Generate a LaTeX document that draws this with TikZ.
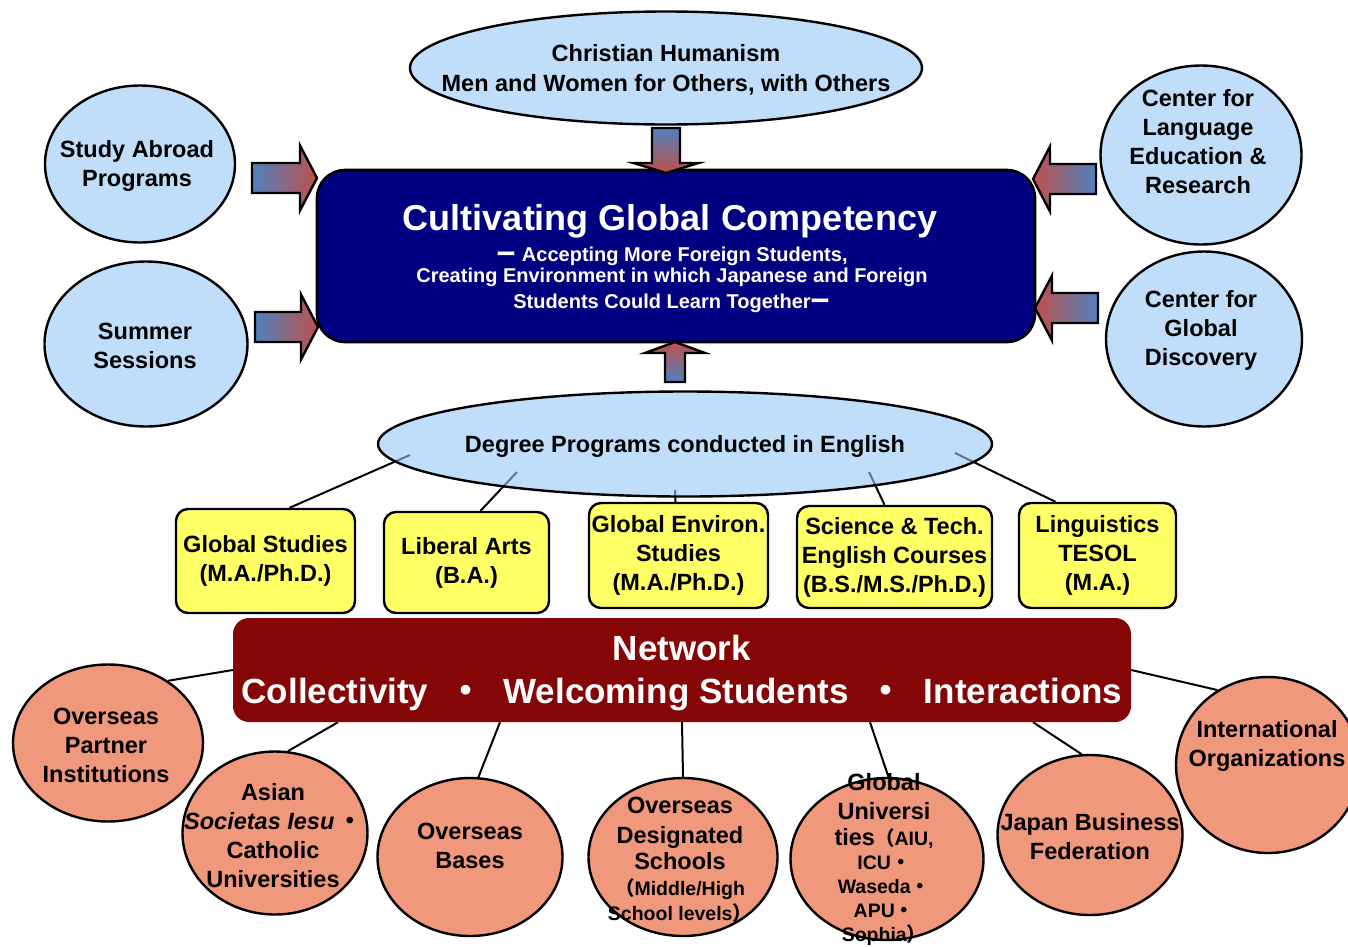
\documentclass[tikz,border=0pt]{standalone}
\usepackage{fontspec}
\setmainfont{Liberation Sans}
\newfontfamily\cjk{Noto Sans CJK JP}
\usetikzlibrary{shapes.geometric,backgrounds,calc}

\definecolor{skyfill}{RGB}{192,222,250}
\definecolor{skyglass}{RGB}{150,200,247}
\definecolor{goalnavy}{RGB}{0,0,128}
\definecolor{netred}{RGB}{133,6,6}
\definecolor{progyellow}{RGB}{255,255,102}
\definecolor{salmon}{RGB}{240,152,124}
\definecolor{arrblue}{RGB}{79,129,189}
\definecolor{arrred}{RGB}{192,80,77}

\newcommand{\bodysize}{\fontsize{23.5}{29}\selectfont\bfseries}
\newcommand{\smallsize}{\fontsize{19.5}{24}\selectfont}
\newcommand{\bigsize}{\fontsize{23.5}{24}\selectfont}

\tikzset{
	sky/.style={ellipse, draw, line width=2.4, fill=skyfill, inner sep=0pt},
	partnerblob/.style={ellipse, draw, line width=2.4, fill=salmon, inner sep=0pt},
	prog/.style={rectangle, rounded corners=12, draw, line width=2.4, fill=progyellow,
			inner sep=0pt, align=center, font=\bodysize},
	goalbox/.style={rectangle, rounded corners=28, draw, line width=2.6, fill=goalnavy},
	goaltext/.style={text=white, align=center, inner sep=0pt},
	netbox/.style={rectangle, rounded corners=16, fill=netred, text=white, align=center,
			inner sep=0pt, font=\fontsize{35}{43}\selectfont\bfseries},
	txt/.style={align=center, inner sep=0pt, font=\bodysize},
	link/.style={line width=2},
	pics/bigarrow/.style n args={6}{code={%
				\draw[line width=2.4, top color=arrred, bottom color=arrblue, shading angle=#2, rotate=#1]
				(0,-#4) -- ({#3-#6},-#4) -- ({#3-#6},-#5) -- (#3,0) -- ({#3-#6},#5) -- ({#3-#6},#4) -- (0,#4) -- cycle;
			}}
}

\begin{document}
\begin{tikzpicture}[x=1pt,y=-1pt]
	\useasboundingbox (0,0) rectangle (1348,946);

	%--- Goal in the centre ---
	\node[goalbox, minimum width=718, minimum height=172] (goal) at (676,256) {};
	\node[goaltext, font=\fontsize{36}{40}\selectfont\bfseries] (goaltitle) at (670,221) {Cultivating Global Competency};
	\node[goaltext, font=\fontsize{20}{21}\selectfont\bfseries] (goalsub) at (672,280)
	{{\cjk ー} Accepting More Foreign Students,\\Creating Environment in which Japanese and Foreign\\[5pt]Students Could Learn Together{\cjk ー}};

	%--- Mission and the four feeders ---
	\node[sky, minimum width=512, minimum height=113] (motto) at (666,68) {};
	\node[txt] (mottotext) at ($(motto)+(0,2)$) {Christian Humanism\\[1pt]Men and Women for Others, with Others};
	\node[sky, minimum width=190, minimum height=157] (abroad) at (140,164) {};
	\node[txt] (abroadtext) at ($(abroad)+(-3,2)$) {Study Abroad\\Programs};
	\node[sky, minimum width=203, minimum height=165] (summer) at (146,344) {};
	\node[txt] (summertext) at ($(summer)+(-1,2)$) {Summer\\Sessions};
	\node[sky, minimum width=201, minimum height=179] (lang) at (1201,155) {};
	\node[txt] (langtext) at ($(lang)+(-3,-13)$) {Center for\\Language\\Education \&\\Research};
	\node[sky, minimum width=196, minimum height=175] (disc) at (1204,339) {};
	\node[txt] (disctext) at ($(disc)+(-3,-9)$) {Center for\\Global\\Discovery};

	%--- Block arrows into the goal ---
	\pic at (252,178) {bigarrow={0}{270}{65}{15}{32.5}{17}};
	\pic at (255,327) {bigarrow={0}{270}{63}{15}{32.5}{17}};
	\pic at (1096,179) {bigarrow={180}{90}{63}{15}{32.5}{17}};
	\pic at (1098,308) {bigarrow={180}{90}{63}{15}{32.5}{17}};
	\pic at (666,128) {bigarrow={270}{180}{45}{14}{32.5}{10}};
	\pic at (675,382) {bigarrow={90}{0}{40}{10}{30}{11}};

	%--- Degree programs ---
	\node[ellipse, draw, line width=2.4, fill=skyglass, fill opacity=0.6, draw opacity=1,
		minimum width=614, minimum height=105, inner sep=0pt] (deg) at (685,444) {};
	\node[txt] (degtext) at ($(deg)+(0,2)$) {Degree Programs conducted in English};
	\node[prog, minimum width=179, minimum height=104] (gs) at (265.5,561) {Global Studies\\(M.A./Ph.D.)};
	\node[prog, minimum width=165, minimum height=101] (la) at (466.5,562.5) {Liberal Arts\\(B.A.)};
	\node[prog, minimum width=179, minimum height=105] (ges) at (678.5,555.5) {Global Environ.\\Studies\\(M.A./Ph.D.)};
	\node[prog, minimum width=195, minimum height=102] (sci) at (894.5,557) {Science \& Tech.\\English Courses\\(B.S./M.S./Ph.D.)};
	\node[prog, minimum width=157, minimum height=105] (ling) at (1097.5,555.5) {Linguistics\\TESOL\\(M.A.)};

	%--- Network ---
	\node[netbox, minimum width=898, minimum height=104] (net) at (682,670) {};
	\node[goaltext, font=\fontsize{35}{43}\selectfont\bfseries] (nettext) at ($(net)+(0,3)$)
	{Network\\Collectivity\hspace{20pt}{\cjk ・}\hspace{20pt}Welcoming Students\hspace{20pt}{\cjk ・}\hspace{20pt}Interactions};
	\node[partnerblob, minimum width=190, minimum height=157] (partner) at (108,743) {};
	\node[txt] (partnertext) at ($(partner)+(-2,2)$) {Overseas\\Partner\\Institutions};
	\node[partnerblob, minimum width=185, minimum height=163] (asj) at (275,833) {};
	\node[txt] (asjtext) at ($(asj)+(-2,3)$) {Asian\\\textit{Societas Iesu}\,{\cjk ・}\\Catholic\\Universities};
	\node[partnerblob, minimum width=185, minimum height=158] (bases) at (470,857) {};
	\node[txt] (basestext) at ($(bases)+(0,-11)$) {Overseas\\Bases};
	\node[partnerblob, minimum width=189, minimum height=158] (schools) at (683,857) {};
	\node[txt] (schoolstext) at ($(schools)+(-3,3)$)
	{Overseas\\[1pt]Designated\\[-3pt]Schools\\[-3pt]{\smallsize{\cjk （}Middle/High}\\[-4pt]{\smallsize School levels{\cjk ）}}};
	\node[partnerblob, minimum width=193, minimum height=162] (glob) at (887,859) {};
	\node[txt, font=\smallsize\bfseries] (globtext) at ($(glob)+(-3,0)$)
	{{\bigsize Global}\\[5pt]{\bigsize Universi}\\[2pt]{\bigsize ties}{\cjk （}AIU,\\ICU{\cjk ・}\\Waseda{\cjk ・}\\APU{\cjk ・}\\Sophia{\cjk ）}};
	\node[partnerblob, minimum width=185, minimum height=160] (keidanren) at (1090,835) {};
	\node[txt] (keidanrentext) at ($(keidanren)+(0,2)$) {Japan Business\\Federation};
	\node[partnerblob, minimum width=184, minimum height=176] (intl) at (1268,765) {};
	\node[txt] (intltext) at ($(intl)+(-1,-19)$) {International\\Organizations};

	%--- Connectors ---
	\begin{scope}[on background layer]
		\draw[link] ($(deg.center)+(-275,11)$) -- ([xshift=24]gs.north);
		\draw[link] ($(deg.center)+(-168,28)$) -- ([xshift=14]la.north);
		\draw[link] ($(deg.center)+(-10,46)$) -- ([xshift=-3]ges.north);
		\draw[link] ($(deg.center)+(184,28)$) -- ([xshift=-10]sci.north);
		\draw[link] ($(deg.center)+(270,9)$) -- ([xshift=-42]ling.north);
		\draw[link] (net.west) -- (partner.46);
		\draw[link] ([xshift=-344]net.south) -- (asj.81);
		\draw[link] ([xshift=-182]net.south) -- (bases.84);
		\draw[link] (net.south) -- (schools.north);
		\draw[link] ([xshift=188]net.south) -- (glob.89);
		\draw[link] ([xshift=351]net.south) -- (keidanren.96);
		\draw[link] (net.east) -- (intl.124);
	\end{scope}
\end{tikzpicture}
\end{document}
